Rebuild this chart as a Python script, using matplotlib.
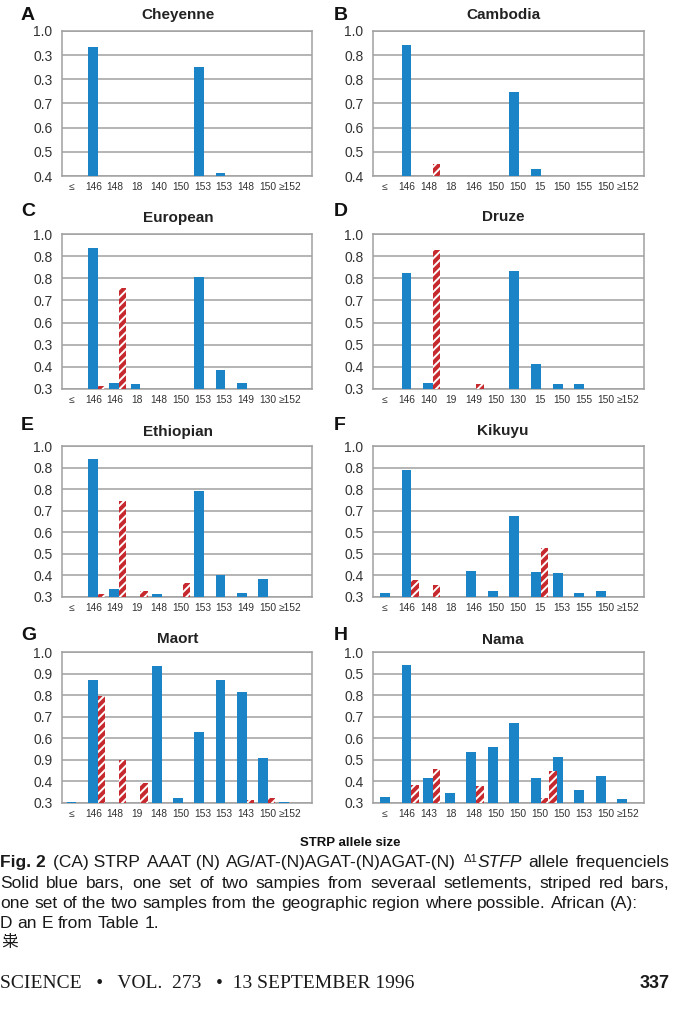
import matplotlib
matplotlib.use('Agg')
import matplotlib.pyplot as plt
import numpy as np

plt.rcParams['font.family'] = ['Liberation Sans', 'DejaVu Sans']
plt.rcParams['hatch.linewidth'] = 1.4

BLUE = '#1a84c7'
RED = '#c62a2f'
GRID = '#a0a0a0'

# ---- data (y in axis units, 0 = no bar) ----
names = ['Cheyenne', 'Cambodia', 'European', 'Druze', 'Ethiopian', 'Kikuyu', 'Maort', 'Nama']
letters = ['A', 'B', 'C', 'D', 'E', 'F', 'G', 'H']

labels_a = ['≤', '146', '148', '18', '140', '150', '153', '153', '148', '150', '≥152']
blue_a = [0, 0.934, 0, 0, 0, 0, 0.851, 0.412, 0, 0, 0]
red_a = [0] * 11
yt_a = ['0.4', '0.5', '0.6', '0.7', '0.3', '0.3', '1.0']

labels_b = ['≤', '146', '148', '18', '146', '150', '150', '15', '150', '155', '150', '≥152']
blue_b = [0, 0.943, 0.402, 0, 0, 0, 0.748, 0.428, 0, 0, 0, 0]
red_b = [0, 0, 0.449, 0, 0, 0, 0, 0, 0, 0, 0, 0]
yt_b = ['0.4', '0.5', '0.6', '0.7', '0.8', '0.8', '1.0']

labels_c = ['≤', '146', '146', '18', '148', '150', '153', '153', '149', '130', '≥152']
blue_c = [0, 0.937, 0.329, 0.321, 0, 0, 0.804, 0.386, 0.329, 0, 0]
red_c = [0, 0.314, 0.755, 0, 0, 0, 0, 0, 0, 0, 0]
yt_c = ['0.3', '0.4', '0.3', '0.6', '0.7', '0.8', '0.8', '1.0']

labels_d = ['≤', '146', '140', '19', '149', '150', '130', '15', '150', '155', '150', '≥152']
blue_d = [0, 0.823, 0.328, 0, 0, 0, 0.835, 0.415, 0.321, 0.321, 0, 0]
red_d = [0, 0, 0.93, 0, 0.322, 0, 0, 0, 0, 0, 0, 0]
yt_d = ['0.3', '0.4', '0.5', '0.5', '0.7', '0.8', '0.8', '1.0']

labels_e = ['≤', '146', '149', '19', '148', '150', '153', '153', '149', '150', '≥152']
blue_e = [0, 0.939, 0.337, 0, 0.314, 0, 0.791, 0.402, 0.319, 0.382, 0]
red_e = [0, 0.314, 0.746, 0.329, 0, 0.363, 0, 0, 0, 0, 0]
yt_e = ['0.3', '0.4', '0.5', '0.6', '0.7', '0.8', '0.8', '1.0']

labels_f = ['≤', '146', '148', '18', '146', '150', '150', '15', '153', '155', '150', '≥152']
blue_f = [0.317, 0.887, 0, 0, 0.421, 0.329, 0.674, 0.417, 0.41, 0.318, 0.329, 0]
red_f = [0, 0.378, 0.357, 0, 0, 0, 0, 0.528, 0, 0, 0, 0]
yt_f = ['0.3', '0.4', '0.5', '0.5', '0.7', '0.8', '0.8', '1.0']

labels_g = ['≤', '146', '148', '19', '148', '150', '153', '153', '143', '150', '≥152']
blue_g = [0.303, 0.869, 0, 0, 0.937, 0.322, 0.628, 0.870, 0.813, 0.509, 0.306]
red_g = [0, 0.798, 0.498, 0.392, 0, 0, 0, 0, 0.315, 0.323, 0]
yt_g = ['0.3', '0.4', '0.9', '0.6', '0.7', '0.8', '0.9', '1.0']

labels_h = ['≤', '146', '143', '18', '148', '150', '150', '150', '150', '153', '150', '≥152']
blue_h = [0.329, 0.938, 0.414, 0.348, 0.535, 0.560, 0.672, 0.418, 0.511, 0.358, 0.425, 0.318]
red_h = [0, 0.382, 0.458, 0, 0.38, 0, 0, 0.323, 0, 0, 0, 0]
red2_h = [0, 0, 0, 0, 0, 0, 0, 0.448, 0, 0, 0, 0]
yt_h = ['0.3', '0.4', '0.5', '0.6', '0.7', '0.8', '0.5', '1.0']

panels = [
    (labels_a, blue_a, red_a, None, yt_a),
    (labels_b, blue_b, red_b, None, yt_b),
    (labels_c, blue_c, red_c, None, yt_c),
    (labels_d, blue_d, red_d, None, yt_d),
    (labels_e, blue_e, red_e, None, yt_e),
    (labels_f, blue_f, red_f, None, yt_f),
    (labels_g, blue_g, red_g, None, yt_g),
    (labels_h, blue_h, red_h, red2_h, yt_h),
]

W, H = 683, 1024
fig = plt.figure(figsize=(W / 100, H / 100), dpi=100)

# axes boxes in pixels
rows = [(31, 176), (234, 389), (446, 597), (652, 803)]
cols = [(62, 312), (373, 644)]
title_y = [15, 15, 218, 217, 432, 431, 639, 640]
title_x = [178, 503]
letter_y = [15, 15, 211, 211, 426, 426, 635, 635]
letter_x = [21, 334]


def px_box(x0, x1, top, bot):
    return [x0 / W, 1 - bot / H, (x1 - x0) / W, (bot - top) / H]


for k, (labels, blue, red, red2, ytl) in enumerate(panels):
    r, c = divmod(k, 2)
    ax = fig.add_axes(px_box(cols[c][0], cols[c][1], rows[r][0], rows[r][1]))
    n = len(ytl)
    ymin = 1.0 - 0.1 * (n - 1)
    yt = [ymin + 0.1 * i for i in range(n)]
    x = np.arange(len(labels))
    b = np.array(blue, dtype=float)
    rr = np.array(red, dtype=float)
    m = b > ymin
    ax.bar(x[m], b[m] - ymin, bottom=ymin, width=0.46, color=BLUE, zorder=3)
    m = rr > ymin
    ax.bar(x[m] + 0.40, rr[m] - ymin, bottom=ymin, width=0.34, color=RED,
           hatch='////', edgecolor='white', linewidth=0, zorder=3)
    if red2 is not None:
        r2 = np.array(red2, dtype=float)
        m = r2 > ymin
        ax.bar(x[m] + 0.78, r2[m] - ymin, bottom=ymin, width=0.34, color=RED,
               hatch='////', edgecolor='white', linewidth=0, zorder=3)
    ax.set_ylim(ymin, 1.0)
    if c == 0:
        ax.set_xlim(-0.45, 11.3)
    else:
        ax.set_xlim(-0.55, 12.0)
    ax.set_yticks(yt)
    ax.set_yticklabels(ytl, fontsize=10, color='#333333')
    ax.set_xticks(x * 1.025)
    ax.set_xticklabels(labels, fontsize=7.4, color='#333333')
    ax.tick_params(length=0, pad=4)
    ax.tick_params(axis='y', pad=7)
    ax.yaxis.grid(True, color=GRID, lw=1.1, zorder=0)
    for s in ax.spines.values():
        s.set_color(GRID)
        s.set_linewidth(1.1)
    fig.text(title_x[c] / W, 1 - title_y[k] / H, names[k], ha='center', va='center',
             fontsize=11, fontweight='bold', color='#222222')
    fig.text(letter_x[c] / W, 1 - letter_y[k] / H, letters[k], ha='left', va='center',
             fontsize=14, fontweight='bold', color='#111111')

fig.text(350 / W, 1 - 843 / H, 'STRP allele size', ha='center', va='center',
         fontsize=9.5, fontweight='bold', color='#111111')

# ---- caption ----
fig.canvas.draw()
rend = fig.canvas.get_renderer()


def put_line(yc, words, x0, x1=None, size=12.5):
    base = yc + 5
    items = []
    for w in words:
        parts = []
        for txt, props in w:
            t = fig.text(0, 1 - base / H, txt, va='baseline', ha='left', fontsize=props.get('size', size),
                         fontweight=props.get('weight', 'normal'), fontstyle=props.get('style', 'normal'),
                         color='#1a1a1a')
            parts.append((t, props.get('dy', 0)))
        items.append(parts)
    widths = []
    for parts in items:
        widths.append([p[0].get_window_extent(rend).width for p in parts])
    total = sum(sum(w) for w in widths)
    if x1 is None or len(items) < 2:
        gap = 0.28 * size * 100 / 72
    else:
        gap = (x1 - x0 - total) / (len(items) - 1)
    xx = x0
    for parts, ws in zip(items, widths):
        for (t, dy), wpx in zip(parts, ws):
            t.set_position((xx / W, 1 - (base + dy) / H))
            xx += wpx
        xx += gap


N = {}
B = {'weight': 'bold'}
line1 = [[('Fig. 2', B)], [('(CA) STRP', N)], [('AAAT (N)', N)], [('AG/AT-(N)AGAT-(N)AGAT-(N)', N)],
         [('Δ1', {'size': 8, 'dy': -5}), ('STFP', {'style': 'italic'})], [('allele', N)], [('frequenciels', N)]]
line2 = [[(w, N)] for w in 'Solid blue bars, one set of two sampies from severaal setlements, striped red bars,'.split()]
line3 = [[(w, N)] for w in 'one set of the two samples from the geographic region where possible. African (A):'.split()]
line4 = [[(w, N)] for w in 'D an E from Table 1.'.split()]
put_line(862, line1, 0, 670)
put_line(883, line2, 0, 670)
put_line(903, line3, 0)
put_line(923, line4, 0)
fig.text(1 / W, 1 - 943 / H, '粜', family=['Noto Sans CJK SC', 'DejaVu Sans'], fontsize=12,
         va='center', ha='left', color='#1a1a1a')

fig.text(0, 1 - 983 / H, 'SCIENCE   •   VOL.  273   •  13 SEPTEMBER 1996',
         family=['Liberation Serif', 'DejaVu Serif'], fontsize=14, va='center', ha='left', color='#1a1a1a')
fig.text(670 / W, 1 - 983 / H, '337', fontsize=13, fontweight='bold', va='center', ha='right',
         color='#1a1a1a')

fig.savefig('out.png', dpi=100, facecolor='white')
